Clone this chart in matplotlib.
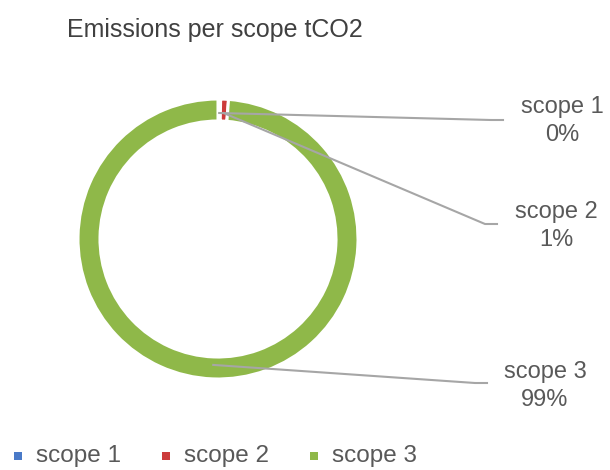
import numpy as np
import matplotlib
matplotlib.use("Agg")
import matplotlib.pyplot as plt

plt.rcParams['font.family'] = ['Liberation Sans', 'DejaVu Sans']

# emissions share per scope (percent of total tCO2)
scopes = ["scope 1", "scope 2", "scope 3"]
shares = [0.3, 0.9, 98.8]
pct_labels = ["0%", "1%", "99%"]
colors = ["#4a7ac8", "#cc3b3b", "#8fb849"]

W, H = 610, 470
fig = plt.figure(figsize=(W / 100, H / 100), dpi=100)
ax = fig.add_axes([0, 0, 1, 1])

cx, cy, R = 218, H - 239, 140
wedges, _ = ax.pie(shares, colors=colors, center=(cx, cy), radius=R,
                   startangle=90, counterclock=False,
                   wedgeprops=dict(width=22, edgecolor="white", linewidth=2.2))
ax.set_xlim(0, W)
ax.set_ylim(0, H)
ax.set_aspect("equal")
ax.axis("off")

txt = "#595959"
line = "#a6a6a6"

# label anchors (where the leader lines end), in pixels from top-left
anchors = [(503, 120), (497, 224), (487, 383)]
label_pos = [(562, 107), (556, 212), (545, 372)]

for w, (ax_x, ax_y), (lx, ly), name, pct in zip(wedges, anchors, label_pos, scopes, pct_labels):
    mid = np.deg2rad((w.theta1 + w.theta2) / 2)
    sx = cx + 126 * np.cos(mid)
    sy = cy + 126 * np.sin(mid)
    ex, ey = ax_x, H - ax_y
    ax.plot([sx, ex - 12, ex], [sy, ey, ey], color=line, lw=1.5,
            solid_joinstyle="round", zorder=3)
    ax.text(lx, H - ly, name, ha="center", va="center", fontsize=17, color=txt)
    ax.text(lx, H - ly - 28, pct, ha="center", va="center", fontsize=17, color=txt)

ax.text(67, H - 30, "Emissions per scope tCO2", ha="left", va="center",
        fontsize=18, color="#404040")

# legend along the bottom
leg_x = [18, 166, 314]
for x, c, name in zip(leg_x, colors, scopes):
    ax.scatter([x], [H - 456], marker="s", s=30, color=c, linewidths=0)
    ax.text(x + 18, H - 456, name, ha="left", va="center", fontsize=17.5, color=txt)

fig.savefig("out.png", dpi=100)
